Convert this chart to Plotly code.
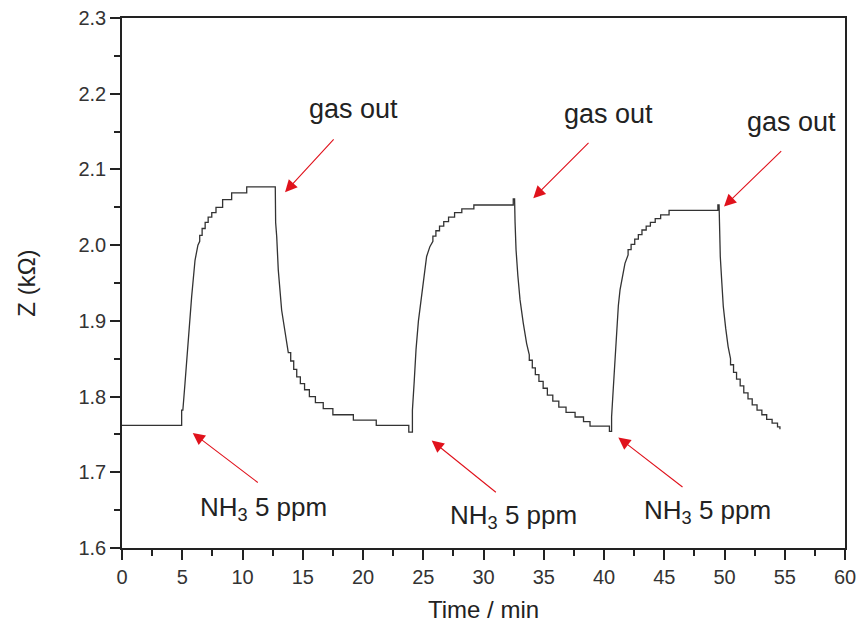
import plotly.graph_objects as go

# Impedance response to three NH3 pulses. The readout is quantised, so the
# slow parts of each transient are stored as stair edges + levels, and the
# steep parts as ordinary (t, Z) readings.

# ---- cycle 1 ----
base_edges = [0.0, 4.95, 5.05]
base_levels = [1.762, 1.782]
rise1_t = [5.23, 5.50, 5.78, 6.06, 6.30, 6.45]
rise1_z = [1.818, 1.879, 1.932, 1.980, 2.000, 2.005]
top1_edges = [6.45, 6.65, 6.90, 7.15, 7.45, 7.80, 8.35, 9.10, 10.35, 12.72]
top1_levels = [2.013, 2.022, 2.030, 2.037, 2.043, 2.050, 2.060, 2.069, 2.077]
fall1_t = [12.75, 12.84, 12.97, 13.25, 13.66, 13.80]
fall1_z = [2.030, 2.011, 1.967, 1.914, 1.870, 1.858]
tail1_edges = [13.80, 14.00, 14.25, 14.50, 14.80, 15.15, 15.55, 16.05, 16.70,
               17.50, 19.20, 21.10, 23.80, 24.10]
tail1_levels = [1.858, 1.847, 1.836, 1.826, 1.817, 1.809, 1.800, 1.792, 1.784,
                1.776, 1.769, 1.762, 1.753]

# ---- cycle 2 ----
rise2_t = [24.10, 24.25, 24.40, 24.60, 24.87, 25.05, 25.28, 25.55, 25.80]
rise2_z = [1.782, 1.820, 1.862, 1.900, 1.936, 1.962, 1.985, 1.998, 2.005]
top2_edges = [25.80, 26.05, 26.35, 26.70, 27.10, 27.60, 28.20, 29.20, 32.47, 32.58]
top2_levels = [2.012, 2.019, 2.025, 2.031, 2.037, 2.043, 2.048, 2.053, 2.061]
fall2_t = [32.62, 32.70, 32.85, 33.03, 33.30, 33.58, 33.80]
fall2_z = [2.030, 1.994, 1.960, 1.928, 1.897, 1.870, 1.855]
tail2_edges = [33.80, 34.05, 34.30, 34.60, 34.95, 35.30, 35.75, 36.25, 36.85,
               37.60, 38.30, 38.84, 40.45, 40.63]
tail2_levels = [1.848, 1.838, 1.829, 1.820, 1.811, 1.802, 1.794, 1.786, 1.779,
                1.773, 1.767, 1.761, 1.754]

# ---- cycle 3 ----
rise3_t = [40.63, 40.73, 40.83, 40.94, 41.05, 41.19, 41.33, 41.52, 41.74, 42.00]
rise3_z = [1.773, 1.800, 1.826, 1.860, 1.897, 1.920, 1.941, 1.960, 1.976, 1.987]
top3_edges = [42.00, 42.25, 42.55, 42.85, 43.15, 43.50, 43.85, 44.25, 44.70,
              45.40, 49.45, 49.55]
top3_levels = [1.994, 2.001, 2.008, 2.014, 2.020, 2.025, 2.030, 2.035, 2.040,
               2.046, 2.053]
fall3_t = [49.60, 49.65, 49.78, 49.90, 50.10, 50.30, 50.50]
fall3_z = [2.020, 1.985, 1.950, 1.919, 1.890, 1.866, 1.850]
tail3_edges = [50.50, 50.75, 51.00, 51.30, 51.60, 51.95, 52.30, 52.70, 53.10,
               53.50, 53.95, 54.40, 54.60]
tail3_levels = [1.842, 1.832, 1.823, 1.814, 1.805, 1.797, 1.789, 1.782, 1.776,
                1.770, 1.765, 1.760]
end_t = [54.60]
end_z = [1.757]

# "gas out" callouts: arrow head, arrow tail, label centre
gas_head_t = [13.53, 34.13, 49.96]
gas_head_z = [2.070, 2.062, 2.051]
gas_tail_t = [17.68, 38.84, 54.83]
gas_tail_z = [2.1416, 2.137, 2.126]
gas_text_t = [19.17, 40.41, 55.58]
gas_text_z = [2.180, 2.173, 2.163]

# "NH3 5 ppm" callouts
nh3_head_t = [5.87, 25.70, 41.19]
nh3_head_z = [1.752, 1.742, 1.746]
nh3_tail_t = [11.39, 31.15, 46.64]
nh3_tail_z = [1.685, 1.672, 1.679]
nh3_text_t = [11.78, 32.45, 48.63]
nh3_text_z = [1.652, 1.641, 1.648]

x_ticks = list(range(0, 61, 5))
y_ticks = [1.6, 1.7, 1.8, 1.9, 2.0, 2.1, 2.2, 2.3]

FONT = "Arial, Liberation Sans, sans-serif"
INK = "#222222"
ARROW_RED = "#e0121c"


def stairs(edges, levels):
    """Corner points of a staircase: level i spans edges[i]..edges[i+1]."""
    ts, zs = [], []
    for i, lvl in enumerate(levels):
        ts += [edges[i], edges[i + 1]]
        zs += [lvl, lvl]
    return ts, zs


pieces = [
    stairs(base_edges, base_levels),
    (rise1_t, rise1_z), stairs(top1_edges, top1_levels),
    (fall1_t, fall1_z), stairs(tail1_edges, tail1_levels),
    (rise2_t, rise2_z), stairs(top2_edges, top2_levels),
    (fall2_t, fall2_z), stairs(tail2_edges, tail2_levels),
    (rise3_t, rise3_z), stairs(top3_edges, top3_levels),
    (fall3_t, fall3_z), stairs(tail3_edges, tail3_levels),
    (end_t, end_z),
]
time_min, z_kohm = [], []
for ts, zs in pieces:
    time_min += list(ts)
    z_kohm += list(zs)

fig = go.Figure()
fig.add_trace(go.Scatter(
    x=time_min, y=z_kohm, mode="lines",
    line=dict(color="#333333", width=1.3),
    showlegend=False, hoverinfo="skip",
))

annotations = []
for i in range(3):
    annotations.append(dict(
        x=gas_head_t[i], y=gas_head_z[i], ax=gas_tail_t[i], ay=gas_tail_z[i],
        xref="x", yref="y", axref="x", ayref="y", text="",
        showarrow=True, arrowhead=2, arrowsize=2.2, arrowwidth=1.1,
        arrowcolor=ARROW_RED,
    ))
    annotations.append(dict(
        x=gas_text_t[i], y=gas_text_z[i], xref="x", yref="y",
        text="gas out", showarrow=False,
        font=dict(family=FONT, size=27, color=INK),
    ))
    annotations.append(dict(
        x=nh3_head_t[i], y=nh3_head_z[i], ax=nh3_tail_t[i], ay=nh3_tail_z[i],
        xref="x", yref="y", axref="x", ayref="y", text="",
        showarrow=True, arrowhead=2, arrowsize=2.2, arrowwidth=1.1,
        arrowcolor=ARROW_RED,
    ))
    annotations.append(dict(
        x=nh3_text_t[i], y=nh3_text_z[i], xref="x", yref="y",
        text="NH<sub>3</sub> 5 ppm", showarrow=False,
        font=dict(family=FONT, size=26, color=INK),
    ))

axis_common = dict(
    showgrid=False, zeroline=False, automargin=False,
    showline=True, linecolor="#222222", linewidth=1.6, mirror=True,
    ticks="outside", ticklen=10, tickwidth=1.6, tickcolor="#222222",
    tickfont=dict(family=FONT, size=20, color="#333333"),
)

fig.update_layout(
    width=859, height=632,
    margin=dict(l=122, r=14, t=18, b=84),
    paper_bgcolor="white", plot_bgcolor="white",
    annotations=annotations,
    xaxis=dict(
        range=[0, 60], tickvals=x_ticks,
        minor=dict(ticks="outside", ticklen=6, tickwidth=1.6, dtick=2.5,
                   tickcolor="#222222"),
        title=dict(text="Time / min", standoff=14,
                   font=dict(family=FONT, size=24, color=INK)),
        **axis_common,
    ),
    yaxis=dict(
        range=[1.6, 2.3], tickvals=y_ticks, tickformat=".1f",
        minor=dict(ticks="outside", ticklen=6, tickwidth=1.6, dtick=0.05,
                   tickcolor="#222222"),
        title=dict(text="Z (kΩ)", standoff=36,
                   font=dict(family=FONT, size=24, color=INK)),
        **axis_common,
    ),
)

fig.write_html("out.html")
